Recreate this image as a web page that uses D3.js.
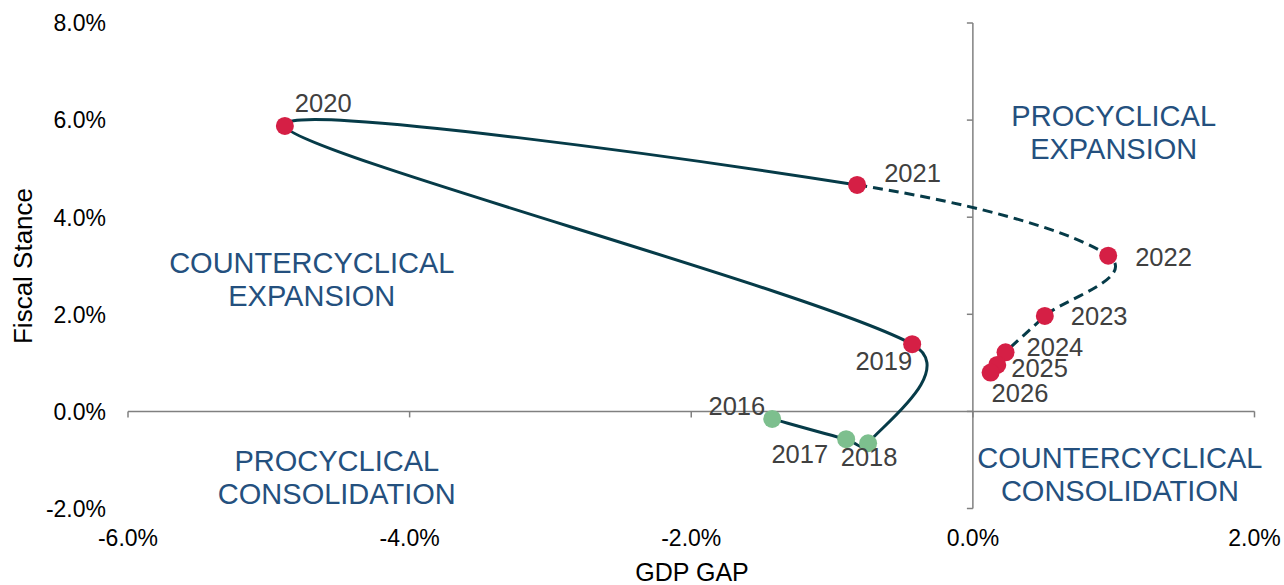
<!DOCTYPE html>
<html>
<head>
<meta charset="utf-8">
<script src="https://cdn.jsdelivr.net/npm/d3@7"></script>
<style>
  html, body { margin: 0; padding: 0; background: #fff; }
  svg { display: block; font-family: "Liberation Sans", Arial, sans-serif; }
</style>
</head>
<body>
<div id="chart"></div>
<script>
// data (percent)
const years = [2016, 2017, 2018, 2019, 2020, 2021, 2022, 2023, 2024, 2025, 2026];
const gdpGap = [-1.425, -0.900, -0.744, -0.431, -4.886, -0.822, 0.961, 0.511, 0.232, 0.173, 0.126];
const fiscalStance = [-0.154, -0.573, -0.656, 1.384, 5.879, 4.665, 3.208, 1.967, 1.218, 0.958, 0.799];
const xTicks = [-6, -4, -2, 0, 2];
const yTicks = [-2, 0, 2, 4, 6, 8];
const quadrants = [
  { lines: ['PROCYCLICAL', 'EXPANSION'], x: 1.0, y: 6.1 },
  { lines: ['COUNTERCYCLICAL', 'EXPANSION'], x: -4.695, y: 3.06 },
  { lines: ['PROCYCLICAL', 'CONSOLIDATION'], x: -4.517, y: -1.02 },
  { lines: ['COUNTERCYCLICAL', 'CONSOLIDATION'], x: 1.044, y: -0.96 }
];
const lastActual = 2021; // after this the line is a projection (dashed)

// label placement next to each dot: anchor, dx, dy (to text centre)
const labelPos = {
  2016: ['end', -7, -13], 2017: ['end', -18, 15], 2018: ['middle', 1, 14],
  2019: ['end', 0, 17], 2020: ['start', 10, -23], 2021: ['start', 27, -12],
  2022: ['start', 27, 1], 2023: ['start', 26, 0], 2024: ['start', 21, -5],
  2025: ['start', 14, 3], 2026: ['start', 1, 20]
};

const width = 1284, height = 585;

const svg = d3.select('#chart').append('svg')
  .attr('width', width)
  .attr('height', height);

const x = d3.scaleLinear().domain([-6, 2]).range([128, 1254.5]);
const y = d3.scaleLinear().domain([-2, 8]).range([508.5, 23]);

const axisColor = '#808080';

// y axis at x = 0
svg.append('line')
  .attr('x1', x(0)).attr('x2', x(0))
  .attr('y1', y(-2)).attr('y2', y(8))
  .attr('stroke', axisColor).attr('stroke-width', 1.5);
svg.selectAll('.ytick').data(yTicks).join('line')
  .attr('x1', x(0) - 6).attr('x2', x(0))
  .attr('y1', d => y(d)).attr('y2', d => y(d))
  .attr('stroke', axisColor).attr('stroke-width', 1.5);

// x axis at y = 0
svg.append('line')
  .attr('x1', x(-6)).attr('x2', x(2))
  .attr('y1', y(0)).attr('y2', y(0))
  .attr('stroke', axisColor).attr('stroke-width', 1.5);
svg.selectAll('.xtick').data(xTicks).join('line')
  .attr('x1', d => x(d)).attr('x2', d => x(d))
  .attr('y1', y(0)).attr('y2', y(0) + 6)
  .attr('stroke', axisColor).attr('stroke-width', 1.5);

const fmt = d => d.toFixed(1) + '%';

// tick labels sit at the low end of each axis
svg.selectAll('.ylab').data(yTicks).join('text')
  .attr('x', 106)
  .attr('y', d => y(d) + 8.3)
  .attr('text-anchor', 'end')
  .attr('font-size', 23)
  .attr('fill', '#000')
  .text(fmt);
svg.selectAll('.xlab').data(xTicks).join('text')
  .attr('x', d => x(d))
  .attr('y', 545.5)
  .attr('text-anchor', 'middle')
  .attr('font-size', 23)
  .attr('fill', '#000')
  .text(fmt);

// axis titles
svg.append('text')
  .attr('transform', 'translate(32,266) rotate(-90)')
  .attr('text-anchor', 'middle')
  .attr('font-size', 26)
  .text('Fiscal Stance');
svg.append('text')
  .attr('x', 692).attr('y', 580.5)
  .attr('text-anchor', 'middle')
  .attr('font-size', 25)
  .text('GDP GAP');

// quadrant labels
quadrants.forEach(q => {
  const t = svg.append('text')
    .attr('text-anchor', 'middle')
    .attr('font-size', 29)
    .attr('fill', '#24507e');
  q.lines.forEach((l, i) => {
    t.append('tspan')
      .attr('x', x(q.x))
      .attr('y', y(q.y) + 10.4 + i * 33)
      .text(l);
  });
});

// smoothed line, spreadsheet style: catmull-rom handles (1/6),
// each handle capped at half the segment length
const pts = years.map((yr, i) => [x(gdpGap[i]), y(fiscalStance[i])]);
const split = years.indexOf(lastActual);
const dist = (a, b) => Math.hypot(b[0] - a[0], b[1] - a[1]);
function segPath(from, to) {
  const p = d3.path();
  p.moveTo(pts[from][0], pts[from][1]);
  for (let i = from; i < to; i++) {
    const p0 = pts[Math.max(i - 1, 0)], p1 = pts[i], p2 = pts[i + 1];
    const p3 = pts[Math.min(i + 2, pts.length - 1)];
    const d12 = dist(p1, p2), d02 = dist(p0, p2), d13 = dist(p1, p3);
    const f0 = d02 / 6 < d12 / 2 ? 1 / 6 : d12 / 2 / d02;
    const f1 = d13 / 6 < d12 / 2 ? 1 / 6 : d12 / 2 / d13;
    p.bezierCurveTo(
      p1[0] + (p2[0] - p0[0]) * f0, p1[1] + (p2[1] - p0[1]) * f0,
      p2[0] - (p3[0] - p1[0]) * f1, p2[1] - (p3[1] - p1[1]) * f1,
      p2[0], p2[1]);
  }
  return p.toString();
}
const lineColor = '#063b48';
svg.append('path')
  .attr('d', segPath(0, split))
  .attr('fill', 'none')
  .attr('stroke', lineColor)
  .attr('stroke-width', 3);
svg.append('path')
  .attr('d', segPath(split, pts.length - 1))
  .attr('fill', 'none')
  .attr('stroke', lineColor)
  .attr('stroke-width', 3)
  .attr('stroke-dasharray', '10,6');

// dots
svg.selectAll('.dot').data(years).join('circle')
  .attr('cx', (d, i) => x(gdpGap[i]))
  .attr('cy', (d, i) => y(fiscalStance[i]))
  .attr('r', 9)
  .attr('fill', d => d <= 2018 ? '#7dbf8e' : '#d51f45');

// year labels
svg.selectAll('.yr').data(years).join('text')
  .attr('x', (d, i) => x(gdpGap[i]) + labelPos[d][1])
  .attr('y', (d, i) => y(fiscalStance[i]) + labelPos[d][2] + 9.2)
  .attr('text-anchor', d => labelPos[d][0])
  .attr('font-size', 25.5)
  .attr('fill', '#404040')
  .text(d => d);
</script>
</body>
</html>
